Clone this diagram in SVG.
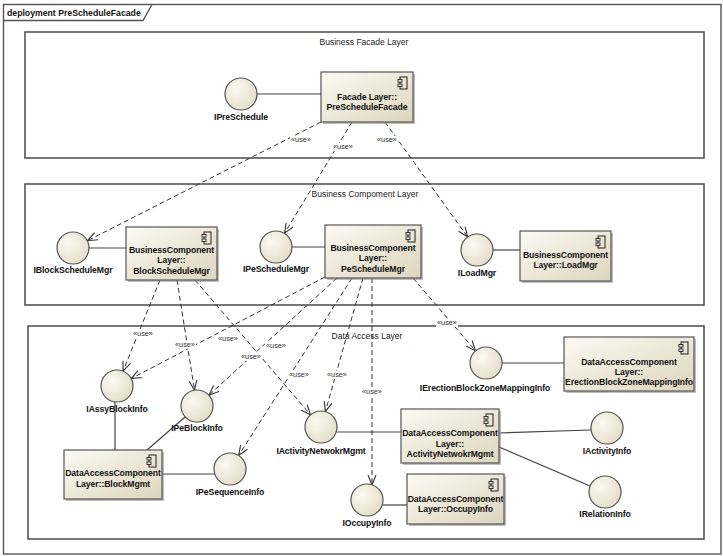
<svg xmlns="http://www.w3.org/2000/svg" width="723" height="556" viewBox="0 0 723 556">
<defs>
<linearGradient id="cg" x1="0" y1="0" x2="1" y2="1">
<stop offset="0" stop-color="#fbfaf4"/>
<stop offset="1" stop-color="#ddd5bd"/>
</linearGradient>
<radialGradient id="ig" cx="0.35" cy="0.35" r="0.75">
<stop offset="0" stop-color="#fbfaf3"/>
<stop offset="1" stop-color="#e2dcc6"/>
</radialGradient>
<marker id="arr" viewBox="0 0 10 10" refX="10" refY="5" markerWidth="10" markerHeight="10" markerUnits="userSpaceOnUse" orient="auto">
<path d="M0,1 L10,5 L0,9" fill="none" stroke="#333" stroke-width="1.1"/>
</marker>
<g id="icon">
<rect x="2" y="0" width="7" height="12" fill="none" stroke="#222" stroke-width="1"/>
<rect x="0" y="2.5" width="4" height="2.5" fill="#f4f1e6" stroke="#222" stroke-width="0.9"/>
<rect x="0" y="7" width="4" height="2.5" fill="#f4f1e6" stroke="#222" stroke-width="0.9"/>
</g>
</defs>
<style>
.frame{fill:none;stroke:#555;stroke-width:1.4}
.layer{fill:none;stroke:#555;stroke-width:1.6}
.ltitle{font-family:"Liberation Sans",Arial,sans-serif;font-size:8.5px;fill:#222;text-anchor:middle}
.comp{fill:url(#cg);stroke:#555;stroke-width:1.2}
.shadow{fill:#8a8a8a;opacity:0.55}
.iface{fill:url(#ig);stroke:#555;stroke-width:1.2}
.t{font-family:"Liberation Sans",Arial,sans-serif;font-size:8.7px;font-weight:bold;fill:#111;text-anchor:middle;letter-spacing:-0.1px}
.link{fill:none;stroke:#444;stroke-width:1.2}
.dep{fill:none;stroke:#333;stroke-width:1;stroke-dasharray:5,3;marker-end:url(#arr)}
.ubg{fill:#fff}
.use{font-family:"Liberation Sans",Arial,sans-serif;font-size:7.3px;fill:#333;text-anchor:middle}
</style>

<g id="frame">
<rect class="frame" x="3.5" y="4.5" width="717.5" height="549.5"/>
<path class="frame" d="M3.5,20.5 H143 L152,4.5"/>
<text x="7" y="16" style="font-family:'Liberation Sans',Arial,sans-serif;font-size:8.7px;font-weight:bold;fill:#111">deployment PreScheduleFacade</text>
</g>

<g id="layer-facade">
<rect class="layer" x="25" y="32" width="679" height="126"/>
<text class="ltitle" x="364" y="45">Business Facade Layer</text>
</g>
<g id="layer-business">
<rect class="layer" x="25" y="184" width="679" height="121"/>
<text class="ltitle" x="365" y="197">Business Compoment Layer</text>
</g>
<g id="layer-data">
<rect class="layer" x="28" y="326" width="676" height="213"/>
<text class="ltitle" x="367" y="339">Data Access Layer</text>
</g>

<g id="connectors">
<line class="link" x1="257" y1="94" x2="321" y2="94"/>
<line class="link" x1="89" y1="248" x2="126" y2="248"/>
<line class="link" x1="292" y1="247" x2="325" y2="247"/>
<line class="link" x1="493" y1="250" x2="520" y2="250"/>
<line class="link" x1="115" y1="402" x2="115" y2="450"/>
<line class="link" x1="185" y1="417" x2="147" y2="450"/>
<line class="link" x1="162" y1="474" x2="215" y2="474"/>
<line class="link" x1="337" y1="432" x2="401" y2="432"/>
<line class="link" x1="499" y1="433" x2="591" y2="430"/>
<line class="link" x1="499" y1="447" x2="590" y2="486"/>
<line class="link" x1="383" y1="505" x2="407" y2="505"/>
<line class="link" x1="502" y1="363" x2="564" y2="363"/>

<line class="dep" x1="321" y1="122" x2="87.5" y2="240.7"/>
<line class="dep" x1="352" y1="122" x2="284.5" y2="233.3"/>
<line class="dep" x1="385" y1="122" x2="467.7" y2="237"/>
<line class="dep" x1="160" y1="280" x2="123" y2="371.2"/>
<line class="dep" x1="177" y1="280" x2="194.5" y2="390.2"/>
<line class="dep" x1="195" y1="280" x2="310.6" y2="414.9"/>
<line class="dep" x1="325" y1="277" x2="131.2" y2="378.6"/>
<line class="dep" x1="337" y1="278" x2="208.9" y2="395.2"/>
<line class="dep" x1="352" y1="278" x2="238.6" y2="455.5"/>
<line class="dep" x1="363" y1="278" x2="325.4" y2="411.6"/>
<line class="dep" x1="372" y1="278" x2="372" y2="485"/>
<line class="dep" x1="413" y1="278" x2="475.6" y2="350.9"/>

<rect class="ubg" x="290" y="136" width="22" height="8"/>
<rect class="ubg" x="332" y="143" width="22" height="8"/>
<rect class="ubg" x="376" y="136" width="22" height="8"/>
<rect class="ubg" x="132" y="330" width="22" height="8"/>
<rect class="ubg" x="174" y="341" width="22" height="8"/>
<rect class="ubg" x="217" y="335" width="22" height="8"/>
<rect class="ubg" x="240" y="353" width="22" height="8"/>
<rect class="ubg" x="265" y="342" width="22" height="8"/>
<rect class="ubg" x="288" y="371" width="22" height="8"/>
<rect class="ubg" x="326" y="371" width="22" height="8"/>
<rect class="ubg" x="361" y="388" width="22" height="8"/>
<rect class="ubg" x="436" y="319" width="22" height="8"/>

<text class="use" x="301" y="142">«use»</text>
<text class="use" x="343" y="149">«use»</text>
<text class="use" x="387" y="142">«use»</text>
<text class="use" x="143" y="336">«use»</text>
<text class="use" x="185" y="347">«use»</text>
<text class="use" x="228" y="341">«use»</text>
<text class="use" x="251" y="359">«use»</text>
<text class="use" x="276" y="348">«use»</text>
<text class="use" x="299" y="377">«use»</text>
<text class="use" x="337" y="377">«use»</text>
<text class="use" x="372" y="394">«use»</text>
<text class="use" x="447" y="325">«use»</text>
</g>

<g id="IPreSchedule">
<circle class="iface" cx="241" cy="94" r="16"/>
<text class="t" x="241" y="120">IPreSchedule</text>
</g>
<g id="PreScheduleFacade">
<rect class="shadow" x="323" y="74" width="92" height="50"/>
<rect class="comp" x="321" y="72" width="92" height="50"/>
<use href="#icon" x="398" y="77"/>
<text class="t" x="367" y="100">Facade Layer::</text>
<text class="t" x="367" y="110">PreScheduleFacade</text>
</g>

<g id="IBlockScheduleMgr">
<circle class="iface" cx="73" cy="248" r="16"/>
<text class="t" x="73" y="273">IBlockScheduleMgr</text>
</g>
<g id="BlockScheduleMgr">
<rect class="shadow" x="128" y="229" width="91" height="53"/>
<rect class="comp" x="126" y="227" width="91" height="53"/>
<use href="#icon" x="202" y="232"/>
<text class="t" x="171.5" y="253">BusinessComponent</text>
<text class="t" x="171.5" y="263">Layer::</text>
<text class="t" x="171.5" y="274">BlockScheduleMgr</text>
</g>

<g id="IPeScheduleMgr">
<circle class="iface" cx="276" cy="247" r="16"/>
<text class="t" x="276" y="272">IPeScheduleMgr</text>
</g>
<g id="PeScheduleMgr">
<rect class="shadow" x="327" y="227" width="96" height="53"/>
<rect class="comp" x="325" y="225" width="96" height="53"/>
<use href="#icon" x="406" y="230"/>
<text class="t" x="373" y="251">BusinessComponent</text>
<text class="t" x="373" y="261">Layer::</text>
<text class="t" x="373" y="272">PeScheduleMgr</text>
</g>

<g id="ILoadMgr">
<circle class="iface" cx="477" cy="250" r="16"/>
<text class="t" x="477" y="276">ILoadMgr</text>
</g>
<g id="LoadMgr">
<rect class="shadow" x="522" y="233" width="91" height="50"/>
<rect class="comp" x="520" y="231" width="91" height="50"/>
<use href="#icon" x="596" y="236"/>
<text class="t" x="565.5" y="258">BusinessComponent</text>
<text class="t" x="565.5" y="268">Layer::LoadMgr</text>
</g>

<g id="IAssyBlockInfo">
<circle class="iface" cx="117" cy="386" r="16"/>
<text class="t" x="117" y="412">IAssyBlockInfo</text>
</g>
<g id="IPeBlockInfo">
<circle class="iface" cx="197" cy="406" r="16"/>
<text class="t" x="197" y="431">IPeBlockInfo</text>
</g>
<g id="BlockMgmt">
<rect class="shadow" x="66" y="452" width="98" height="49"/>
<rect class="comp" x="64" y="450" width="98" height="49"/>
<use href="#icon" x="147" y="455"/>
<text class="t" x="113" y="476">DataAccessComponent</text>
<text class="t" x="113" y="487">Layer::BlockMgmt</text>
</g>
<g id="IPeSequenceInfo">
<circle class="iface" cx="230" cy="469" r="16"/>
<text class="t" x="230" y="495">IPeSequenceInfo</text>
</g>

<g id="IActivityNetwokrMgmt">
<circle class="iface" cx="321" cy="427" r="16"/>
<text class="t" x="321" y="454">IActivityNetwokrMgmt</text>
</g>
<g id="ActivityNetwokrMgmt">
<rect class="shadow" x="403" y="411" width="98" height="54"/>
<rect class="comp" x="401" y="409" width="98" height="54"/>
<use href="#icon" x="484" y="414"/>
<text class="t" x="450" y="436">DataAccessComponent</text>
<text class="t" x="450" y="447">Layer::</text>
<text class="t" x="450" y="457">ActivityNetwokrMgmt</text>
</g>
<g id="IActivityInfo">
<circle class="iface" cx="607" cy="428" r="16"/>
<text class="t" x="607" y="454">IActivityInfo</text>
</g>
<g id="IRelationInfo">
<circle class="iface" cx="605" cy="492" r="16"/>
<text class="t" x="605" y="517">IRelationInfo</text>
</g>

<g id="IOccupyInfo">
<circle class="iface" cx="367" cy="500" r="16"/>
<text class="t" x="367" y="526">IOccupyInfo</text>
</g>
<g id="OccupyInfo">
<rect class="shadow" x="409" y="476" width="97" height="50"/>
<rect class="comp" x="407" y="474" width="97" height="50"/>
<use href="#icon" x="489" y="479"/>
<text class="t" x="455.5" y="502">DataAccessComponent</text>
<text class="t" x="455.5" y="512">Layer::OccupyInfo</text>
</g>

<g id="IErectionBlockZoneMappingInfo">
<circle class="iface" cx="486" cy="363" r="16"/>
<text class="t" x="485" y="391">IErectionBlockZoneMappingInfo</text>
</g>
<g id="ErectionBlockZoneMappingInfo">
<rect class="shadow" x="566" y="339" width="130" height="54"/>
<rect class="comp" x="564" y="337" width="130" height="54"/>
<use href="#icon" x="679" y="342"/>
<text class="t" x="629" y="365">DataAccessComponent</text>
<text class="t" x="629" y="375">Layer::</text>
<text class="t" x="629" y="385">ErectionBlockZoneMappingInfo</text>
</g>
</svg>
